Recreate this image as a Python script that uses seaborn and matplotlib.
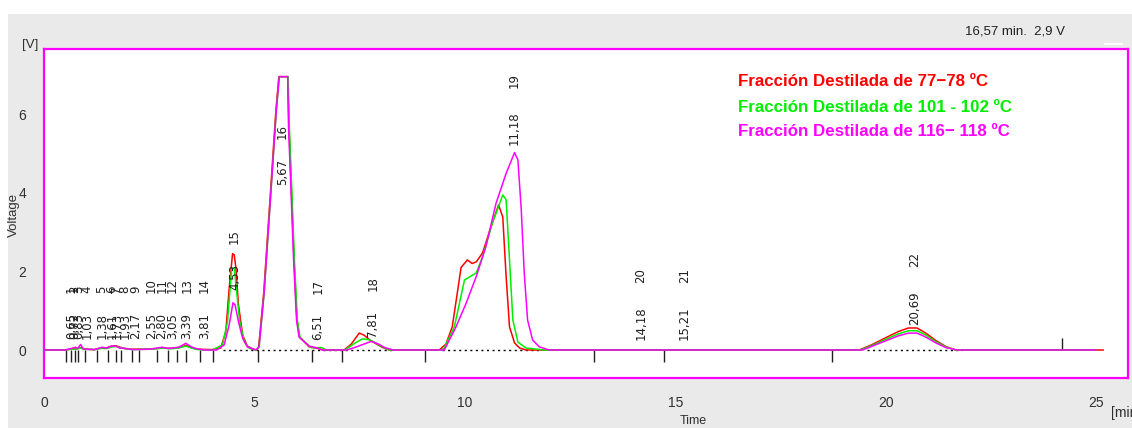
"""Chromatogram of three distilled fractions (Voltage vs Time)."""
import numpy as np
import pandas as pd
import matplotlib
matplotlib.use('Agg')
import matplotlib.pyplot as plt
from matplotlib import font_manager
from matplotlib.patches import Rectangle
from matplotlib.lines import Line2D
import seaborn as sns

# --- data ------------------------------------------------------------------
red_t = [0.0, 0.5, 0.62, 0.7, 0.78, 0.87, 0.95, 1.2, 1.35, 1.45, 1.55, 1.62, 1.7, 1.78, 1.9, 2.05,
         2.5, 2.7, 2.81, 2.95, 3.1, 3.25, 3.37, 3.5, 3.65, 4.0, 4.2, 4.32, 4.40, 4.48, 4.52, 4.56,
         4.62, 4.72, 4.83, 4.95, 5.05, 5.10, 5.22, 5.38, 5.51, 5.58, 5.79, 5.82, 5.88, 5.94, 6.01,
         6.07, 6.3, 6.5, 6.65, 7.13, 7.3, 7.49, 7.6, 7.75, 7.9, 8.05, 8.2, 9.39, 9.55, 9.70, 9.91,
         10.06, 10.17, 10.27, 10.42, 10.62, 10.80, 10.9, 10.98, 11.06, 11.18, 11.3, 11.45, 19.37,
         19.66, 20.06, 20.3, 20.54, 20.74, 20.95, 21.19, 21.43, 21.66, 25.17]
red_v = [0, 0, 0.02, 0.03, 0.03, 0.06, 0.02, 0.01, 0.05, 0.04, 0.08, 0.1, 0.11, 0.08, 0.04, 0.02,
         0.02, 0.04, 0.06, 0.04, 0.05, 0.07, 0.12, 0.06, 0.02, 0.01, 0.05, 0.47, 1.57, 2.45, 2.42, 2.08,
         1.15, 0.38, 0.1, 0.03, 0.0, 0.08, 1.45, 4.0, 6.1, 6.95, 6.95, 5.67, 4.0, 2.29, 0.76,
         0.33, 0.08, 0.04, 0.0, 0.0, 0.15, 0.43, 0.38, 0.25, 0.15, 0.06, 0.0, 0.0, 0.15, 0.59, 2.1,
         2.29, 2.2, 2.24, 2.47, 3.13, 3.69, 3.38, 1.86, 0.59, 0.18, 0.05, 0.0, 0.0,
         0.13, 0.345, 0.47, 0.56, 0.56, 0.43, 0.24, 0.086, 0.0, 0.0]

green_t = [0.0, 0.5, 0.65, 0.8, 0.87, 0.95, 1.2, 1.35, 1.5, 1.62, 1.72, 1.8, 1.95, 2.1, 2.5, 2.75,
           2.85, 3.0, 3.2, 3.37, 3.5, 3.65, 4.0, 4.24, 4.36, 4.46, 4.52, 4.57, 4.65, 4.76, 4.88, 5.05,
           5.11, 5.23, 5.39, 5.52, 5.59, 5.8, 5.83, 5.89, 5.95, 6.02, 6.08, 6.3, 6.35, 6.6, 6.7, 7.15,
           7.35, 7.56, 7.7, 7.85, 8.0, 8.2, 9.45, 9.51, 9.75, 9.99, 10.27, 10.42, 10.65, 10.9, 10.98,
           11.06, 11.14, 11.26, 11.45, 11.89, 19.4, 19.66, 20.06, 20.3, 20.54, 20.74, 20.95, 21.19,
           21.43, 21.66, 25.0]
green_v = [0, 0, 0.02, 0.03, 0.05, 0.02, 0.01, 0.04, 0.04, 0.08, 0.09, 0.06, 0.03, 0.01, 0.02, 0.04,
           0.05, 0.03, 0.05, 0.1, 0.05, 0.01, 0.0, 0.13, 0.72, 2.08, 2.08, 1.57, 0.72, 0.21, 0.04, 0.0,
           0.08, 1.45, 4.0, 6.1, 6.95, 6.95, 5.67, 4.0, 2.29, 0.76, 0.33, 0.1, 0.06, 0.06, 0.0, 0.0,
           0.15, 0.28, 0.27, 0.2, 0.1, 0.0, 0.0, 0.05, 0.59, 1.78, 1.96, 2.37, 3.22, 3.94, 3.82,
           2.29, 0.76, 0.2, 0.05, 0.0, 0.0, 0.11, 0.3, 0.41, 0.49, 0.49, 0.38, 0.21,
           0.075, 0.0, 0.0]

magenta_t = [0.0, 0.5, 0.62, 0.75, 0.8, 0.87, 0.93, 1.2, 1.38, 1.5, 1.59, 1.7, 1.8, 1.94, 2.1, 2.5,
             2.81, 2.95, 3.04, 3.2, 3.37, 3.5, 3.6, 3.8, 4.1, 4.28, 4.4, 4.49, 4.54, 4.62, 4.72, 4.83,
             5.03, 5.11, 5.23, 5.39, 5.52, 5.59, 5.79, 5.81, 5.87, 5.93, 6.0, 6.06, 6.3, 6.5, 6.6,
             7.2, 7.4, 7.6, 7.78, 7.95, 8.1, 8.3, 9.51, 9.79, 10.03, 10.27, 10.5, 10.74, 10.98, 11.18,
             11.26, 11.34, 11.41, 11.49, 11.61, 11.77, 12.0, 19.45, 19.66, 20.06, 20.3, 20.54, 20.74,
             20.95, 21.19, 21.43, 21.7, 25.0]
magenta_v = [0, 0.0, 0.03, 0.07, 0.04, 0.14, 0.03, 0.01, 0.07, 0.05, 0.1, 0.1, 0.05, 0.04, 0.01, 0.02,
             0.07, 0.04, 0.05, 0.07, 0.17, 0.08, 0.04, 0.0, 0.0, 0.13, 0.64, 1.2, 1.15, 0.72, 0.3, 0.08,
             0.0, 0.08, 1.45, 4.0, 6.1, 6.95, 6.95, 5.67, 4.0, 2.29, 0.76, 0.33, 0.1, 0.05, 0.0,
             0.0, 0.07, 0.15, 0.22, 0.15, 0.06, 0.0, 0.0, 0.59, 1.19, 1.87, 2.63, 3.73, 4.49, 5.02,
             4.83, 3.56, 1.96, 0.76, 0.25, 0.08, 0.0, 0.0, 0.09, 0.26, 0.36, 0.43, 0.43,
             0.33, 0.18, 0.06, 0.0, 0.0]

series_names = ['Fracción Destilada de 77\u221278 \u00baC',
                'Fracción Destilada de 101 - 102 \u00baC',
                'Fracción Destilada de 116\u2212 118 \u00baC']
series_colors = ['#ff0000', '#00ee00', '#ff00ff']

# peak table: retention times, peak numbers, height (V) where the labels start
peak_rt = [0.65, 0.72, 0.83, 1.03, 1.38, 1.61, 1.73, 1.93, 2.17, 2.55, 2.80, 3.05, 3.39, 3.81,
           4.53, 5.67, 6.51, 7.81, 11.18, 14.18, 15.21, 20.69]
peak_no = list(range(1, 23))
label_v = [0.27] * 14 + [1.53, 4.2, 0.25, 0.33, 5.2, 0.25, 0.25, 0.64]

# integration events (ticks under the baseline) and baseline segments
event_t = [0.52, 0.65, 0.73, 0.81, 0.98, 1.27, 1.51, 1.72, 1.82, 2.10, 2.26, 2.69, 2.95, 3.16,
           3.37, 3.71, 4.01, 5.09, 6.37, 7.09, 9.06, 13.06, 14.72, 18.73]
event_up_t = [24.19]
base_start = [4.25, 9.45, 19.55]
base_end = [8.35, 11.75, 21.8]

# --- build table ------------------------------------------------------------
df = pd.concat([
    pd.DataFrame({'Time': red_t, 'Voltage': red_v, 'serie': series_names[0]}),
    pd.DataFrame({'Time': green_t, 'Voltage': green_v, 'serie': series_names[1]}),
    pd.DataFrame({'Time': magenta_t, 'Voltage': magenta_v, 'serie': series_names[2]}),
])

sns.set_style('white')
names = {f.name for f in font_manager.fontManager.ttflist}
narrow = 'Liberation Sans Narrow' if 'Liberation Sans Narrow' in names else 'Liberation Sans'
plt.rcParams['font.family'] = ['DejaVu Sans']

W, H = 1132, 428
fig = plt.figure(figsize=(W / 100, H / 100), dpi=100)
fig.patch.set_facecolor('white')
fig.add_artist(Rectangle((8 / W, 0), 1, 1 - 14 / H, transform=fig.transFigure,
                         facecolor='#eaeaea', edgecolor='none', zorder=-5))
fig.add_artist(Line2D([1105 / W, 1122 / W], [1 - 44 / H] * 2, color='white', lw=1.5))

ax = fig.add_axes([44 / W, 1 - 378 / H, (1128 - 44) / W, (378 - 49) / H])
ax.set_facecolor('white')

ax.hlines([0] * len(base_start), base_start, base_end, colors='black',
          linestyles=(0, (1.5, 2.5)), lw=1.0, zorder=1)
ax.vlines(event_t, -0.3, 0, colors='#202020', lw=1.0, zorder=1)
ax.vlines(event_up_t, 0, 0.3, colors='#202020', lw=1.0, zorder=1)

sns.lineplot(data=df, x='Time', y='Voltage', hue='serie', palette=series_colors,
             hue_order=series_names, estimator=None, sort=False, lw=1.1,
             legend=False, ax=ax, zorder=3)

for rt, n, v in zip(peak_rt, peak_no, label_v):
    lab = f'{rt:.2f}'.replace('.', ',')
    ax.annotate(lab, xy=(rt, v), rotation=90, ha='center', va='bottom', fontsize=8.5,
                color='#202020', zorder=4)
    ax.annotate(str(n), xy=(rt, v), xytext=(0, 11.5 * len(lab)), textcoords='offset pixels',
                rotation=90, ha='center', va='bottom', fontsize=8.5, color='#202020', zorder=4)

ax.set_xlim(0, (1128 - 45) / 42.05)
ax.set_ylim(-(378 - 350) / 39.33, (350 - 49) / 39.33)
ax.set_xticks([0, 5, 10, 15, 20, 25])
ax.set_yticks([0, 2, 4, 6])
ax.set_xlabel('')
ax.set_ylabel('')
for s in ax.spines.values():
    s.set_color('#ff00ff')
    s.set_linewidth(1.6)
ax.tick_params(axis='both', color='#ff00ff', labelcolor='#303030', length=5, width=1.5,
               direction='out', labelsize=10, pad=8)
for lbl in ax.get_xticklabels() + ax.get_yticklabels():
    lbl.set_family(narrow)

# legend written as coloured text
for i, (name, col) in enumerate(zip(series_names, series_colors)):
    fig.text(738 / W, 1 - (82 + 25 * i) / H, name, color=col, fontsize=12.2, fontweight='bold',
             family=narrow, ha='left', va='center')

fig.text(1015 / W, 1 - 31 / H, '16,57 min.  2,9 V', fontsize=9.5, family=narrow,
         color='#202020', ha='center', va='center')
fig.text(30 / W, 1 - 45 / H, '[V]', fontsize=9.5, family=narrow, color='#303030',
         ha='center', va='center')
fig.text(14 / W, 1 - 215 / H, 'Voltage', fontsize=9.5, family=narrow, color='#303030',
         rotation=90, ha='center', va='center')
fig.text(693 / W, 1 - 421 / H, 'Time', fontsize=9, family=narrow, color='#303030',
         ha='center', va='center')
fig.text(1111 / W, 1 - 413 / H, '[min', fontsize=10, family=narrow, color='#303030',
         ha='left', va='center')

fig.savefig('out.png', dpi=100)
